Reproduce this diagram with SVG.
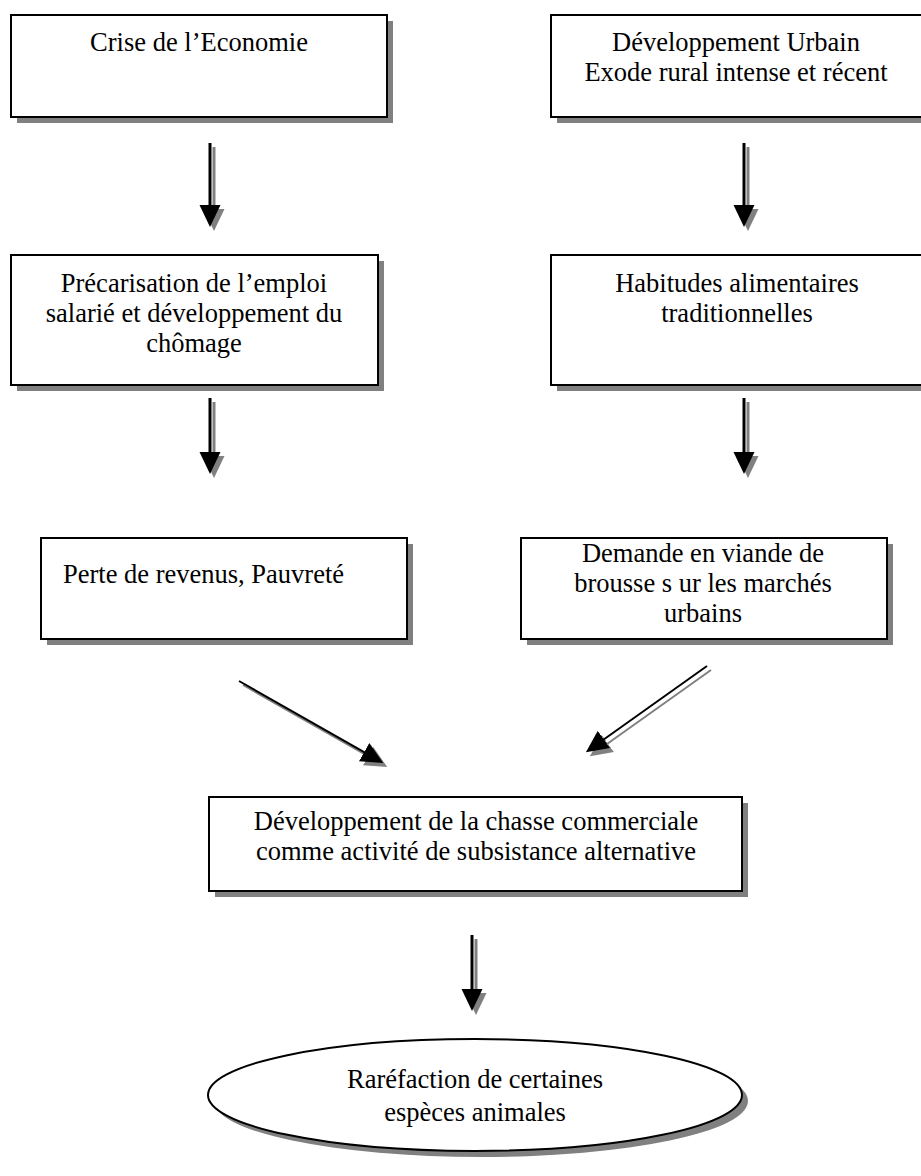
<svg xmlns="http://www.w3.org/2000/svg" width="921" height="1176" viewBox="0 0 921 1176">
<style>
.box{fill:#fff;stroke:#000;stroke-width:2}
.sh{fill:#808080;stroke:none}
.t{font-family:"Liberation Serif","Times New Roman",serif;font-size:26.5px;fill:#000}
.c{text-anchor:middle}
.ln{stroke:#000;stroke-width:3;fill:none}
.lns{stroke:#808080;stroke-width:3;fill:none}
.dl{stroke:#000;stroke-width:2;fill:none}
.dls{stroke:#808080;stroke-width:2;fill:none}
</style>
<defs>
<marker id="ah" viewBox="0 -11 22 22" markerWidth="22" markerHeight="22" refX="1" refY="0" markerUnits="userSpaceOnUse" orient="auto"><path d="M0,-10.5 L22,0 L0,10.5 z" fill="#000"/></marker>
<marker id="ahs" viewBox="0 -11 22 22" markerWidth="22" markerHeight="22" refX="1" refY="0" markerUnits="userSpaceOnUse" orient="auto"><path d="M0,-10.5 L22,0 L0,10.5 z" fill="#808080"/></marker>
</defs>
<rect width="921" height="1176" fill="#fff"/>
<g id="connectors">
<line class="lns" x1="214" y1="147" x2="214" y2="210" marker-end="url(#ahs)"/>
<line class="ln" x1="210" y1="143" x2="210" y2="206" marker-end="url(#ah)"/>
<line class="lns" x1="748" y1="147" x2="748" y2="210" marker-end="url(#ahs)"/>
<line class="ln" x1="744" y1="143" x2="744" y2="206" marker-end="url(#ah)"/>
<line class="lns" x1="214" y1="402" x2="214" y2="457" marker-end="url(#ahs)"/>
<line class="ln" x1="210" y1="398" x2="210" y2="453" marker-end="url(#ah)"/>
<line class="lns" x1="748" y1="402" x2="748" y2="457" marker-end="url(#ahs)"/>
<line class="ln" x1="744" y1="398" x2="744" y2="453" marker-end="url(#ah)"/>
<line class="dls" x1="243" y1="685" x2="369" y2="756.7" marker-end="url(#ahs)"/>
<line class="dl" x1="239" y1="681" x2="365" y2="752.7" marker-end="url(#ah)"/>
<line class="dls" x1="711" y1="670" x2="607" y2="744" marker-end="url(#ahs)"/>
<line class="dl" x1="707" y1="666" x2="603" y2="740" marker-end="url(#ah)"/>
<line class="lns" x1="476" y1="939" x2="476" y2="994" marker-end="url(#ahs)"/>
<line class="ln" x1="472" y1="935" x2="472" y2="990" marker-end="url(#ah)"/>
</g>
<g id="n1">
<rect class="sh" x="17" y="21" width="376" height="102"/>
<rect class="box" x="11" y="15" width="376" height="102"/>
<text class="t c" x="199" y="51">Crise de l’Economie</text>
</g>
<g id="n2">
<rect class="sh" x="557" y="21" width="372" height="102"/>
<rect class="box" x="551" y="15" width="372" height="102"/>
<text class="t c" x="736" y="51">Développement Urbain</text>
<text class="t c" x="736" y="81">Exode rural intense et récent</text>
</g>
<g id="n3">
<rect class="sh" x="17" y="261" width="367" height="130"/>
<rect class="box" x="11" y="255" width="367" height="130"/>
<text class="t c" x="194" y="292">Précarisation de l’emploi</text>
<text class="t c" x="194" y="322">salarié et développement du</text>
<text class="t c" x="194" y="352">chômage</text>
</g>
<g id="n4">
<rect class="sh" x="557" y="261" width="372" height="130"/>
<rect class="box" x="551" y="255" width="372" height="130"/>
<text class="t c" x="737" y="292">Habitudes alimentaires</text>
<text class="t c" x="737" y="322">traditionnelles</text>
</g>
<g id="n5">
<rect class="sh" x="47" y="544" width="366" height="101"/>
<rect class="box" x="41" y="538" width="366" height="101"/>
<text class="t" x="63" y="583">Perte de revenus, Pauvreté</text>
</g>
<g id="n6">
<rect class="sh" x="527" y="544" width="366" height="101"/>
<rect class="box" x="521" y="538" width="366" height="101"/>
<text class="t c" x="703" y="562">Demande en viande de</text>
<text class="t c" x="703" y="592">brousse s ur les marchés</text>
<text class="t c" x="703" y="622">urbains</text>
</g>
<g id="n7">
<rect class="sh" x="215" y="803" width="533" height="94"/>
<rect class="box" x="209" y="797" width="533" height="94"/>
<text class="t c" x="476" y="830">Développement de la chasse commerciale</text>
<text class="t c" x="476" y="860">comme activité de subsistance alternative</text>
</g>
<g id="n8">
<ellipse class="sh" cx="481" cy="1101" rx="267" ry="56"/>
<ellipse class="box" cx="475" cy="1095" rx="267" ry="56"/>
<text class="t c" x="475" y="1088">Raréfaction de certaines</text>
<text class="t c" x="475" y="1121">espèces animales</text>
</g>
</svg>
